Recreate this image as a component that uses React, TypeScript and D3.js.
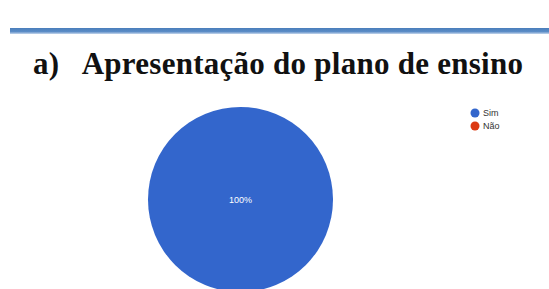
import React, { useEffect, useRef } from 'react';
import * as d3 from 'd3';

const categories = ['Sim', 'Não'];
const values = [100, 0];
const colors = ['#3366cc', '#dc3912'];
const title = 'a)   Apresentação do plano de ensino';

export default function App() {
  const svgRef = useRef<SVGSVGElement>(null);

  useEffect(() => {
    if (!svgRef.current) return;
    const svg = d3.select(svgRef.current);
    svg.selectAll('*').remove();

    const width = 549;

    // header rule with gradient
    const defs = svg.append('defs');
    const grad = defs.append('linearGradient')
      .attr('id', 'rule')
      .attr('x1', 0).attr('y1', 0).attr('x2', 0).attr('y2', 1);
    grad.append('stop').attr('offset', '0%').attr('stop-color', '#4a7ebb');
    grad.append('stop').attr('offset', '60%').attr('stop-color', '#5b8cc6');
    grad.append('stop').attr('offset', '100%').attr('stop-color', '#c5d6ec');

    svg.append('rect')
      .attr('x', 10).attr('y', 28)
      .attr('width', width - 10).attr('height', 6)
      .attr('fill', 'url(#rule)');

    // title
    svg.append('text')
      .attr('x', 33)
      .attr('y', 74)
      .attr('font-family', '"Liberation Serif", "Times New Roman", serif')
      .attr('font-weight', 'bold')
      .attr('font-size', 31)
      .attr('textLength', 490)
      .attr('lengthAdjust', 'spacing')
      .attr('fill', '#111')
      .style('white-space', 'pre')
      .text(title);

    // pie
    const cx = 240.5;
    const cy = 199.5;
    const r = 92.5;
    const pie = d3.pie<number>().sort(null)(values);
    const arc = d3.arc<d3.PieArcDatum<number>>().innerRadius(0).outerRadius(r);
    const g = svg.append('g').attr('transform', `translate(${cx},${cy})`);
    g.selectAll('path')
      .data(pie.filter(d => d.value > 0))
      .enter()
      .append('path')
      .attr('d', arc)
      .attr('fill', d => colors[d.index]);

    const total = d3.sum(values);
    const full = (d: d3.PieArcDatum<number>) => d.endAngle - d.startAngle >= 2 * Math.PI - 1e-6;
    g.selectAll('text.lbl')
      .data(pie.filter(d => d.value > 0))
      .enter()
      .append('text')
      .attr('class', 'lbl')
      .attr('x', d => (full(d) ? 0 : arc.centroid(d)[0]))
      .attr('y', d => (full(d) ? 0 : arc.centroid(d)[1]))
      .attr('dy', '0.35em')
      .attr('text-anchor', 'middle')
      .attr('font-family', 'Arial, "Liberation Sans", sans-serif')
      .attr('font-size', 9)
      .attr('fill', 'white')
      .text(d => `${Math.round((d.value / total) * 100)}%`);

    // legend
    const y = d3.scaleBand().domain(categories).range([106.5, 132.5]);
    const items = svg.append('g').selectAll('g')
      .data(categories)
      .enter()
      .append('g')
      .attr('transform', d => `translate(475,${y(d)! + y.bandwidth() / 2})`);
    items.append('circle').attr('r', 4.5).attr('fill', (_, i) => colors[i]);
    items.append('text')
      .attr('x', 8)
      .attr('dy', '0.35em')
      .attr('font-family', 'Arial, "Liberation Sans", sans-serif')
      .attr('font-size', 9)
      .attr('fill', '#333')
      .text(d => d);
  }, []);

  return (
    <svg
      ref={svgRef}
      width={549}
      height={289}
      style={{ position: 'absolute', left: 0, top: 0, background: 'white' }}
    />
  );
}
